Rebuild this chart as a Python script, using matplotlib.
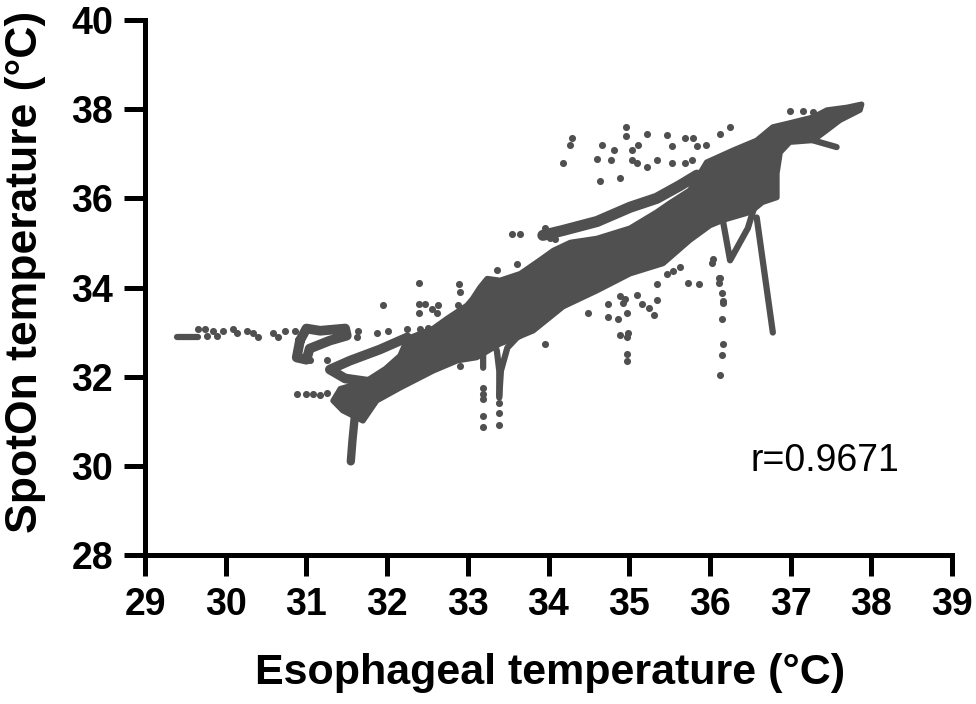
import matplotlib.pyplot as plt

plt.rcParams['font.family'] = ['Liberation Sans', 'DejaVu Sans']

# main dense band outline (esophageal, spoton)
band_x = [31.33, 31.42, 31.73, 31.98, 32.16, 32.25, 32.57, 32.74, 32.99, 33.06, 33.15, 33.24,
          33.40, 33.65, 33.89, 34.06, 34.27, 34.60, 35.01, 35.34, 35.50, 35.75, 35.96, 36.29,
          36.58, 36.78, 36.99, 37.28, 37.45, 37.70, 37.88,
          37.86, 37.61, 37.45, 37.28, 36.99, 36.87, 36.83, 36.83, 36.65, 36.50, 36.16, 36.00,
          35.75, 35.42, 35.01, 34.60, 34.18, 33.81, 33.61, 33.40, 33.11, 32.87, 32.57, 32.16,
          31.87, 31.70, 31.45]
band_y = [31.46, 31.73, 31.89, 32.18, 32.47, 32.85, 33.08, 33.30, 33.60, 33.75, 34.00, 34.20,
          34.16, 34.31, 34.61, 34.83, 35.01, 35.10, 35.33, 35.69, 35.89, 36.18, 36.81, 37.08,
          37.30, 37.60, 37.69, 37.82, 37.98, 38.04, 38.11,
          37.98, 37.75, 37.53, 37.30, 37.26, 37.03, 36.56, 36.02, 35.91, 35.69, 35.51, 35.39,
          35.06, 34.54, 34.31, 33.93, 33.57, 33.03, 32.88, 32.74, 32.43, 32.36, 32.13, 31.75,
          31.46, 31.01, 31.24]

# continuous traces
upper_arm_x = [33.93, 34.18, 34.60, 35.01, 35.34, 35.63, 35.84]
upper_arm_y = [35.17, 35.28, 35.48, 35.80, 36.00, 36.29, 36.52]
left_flat_x = [29.40, 29.66]
left_flat_y = [32.88, 32.88]
left_blob_x = [30.92, 31.00, 31.17, 31.48, 31.50, 31.29, 31.04, 31.00, 30.88, 30.92]
left_blob_y = [32.81, 33.08, 33.03, 33.08, 32.92, 32.81, 32.63, 32.38, 32.43, 32.81]
loop_x = [32.25, 31.91, 31.54, 31.29, 31.48, 31.75, 31.95]
loop_y = [32.88, 32.61, 32.36, 32.16, 31.96, 31.89, 31.82]
spike1_x = [31.60, 31.57, 31.55]
spike1_y = [31.12, 30.56, 30.10]
dip1_x = [33.19, 33.19, 33.25, 33.31, 33.36, 33.39, 33.39]
dip1_y = [32.20, 32.70, 32.88, 32.81, 32.58, 32.13, 31.53]
dip2_x = [33.39, 33.41, 33.49, 33.61, 33.81]
dip2_y = [31.57, 32.13, 32.65, 32.88, 33.10]
dip3_x = [36.16, 36.25, 36.47, 36.55]
dip3_y = [35.51, 34.61, 35.33, 35.80]
spike2_x = [36.58, 36.78]
spike2_y = [35.57, 32.99]
tail_x = [37.28, 37.57]
tail_y = [37.30, 37.15]

# scattered outlier points
dots_x = [29.66, 29.74, 29.77, 29.84, 29.89, 29.97, 30.09, 30.14, 30.26, 30.34, 30.40, 30.59,
          30.65, 30.73, 30.86,
          30.88, 31.00, 31.08, 31.17, 31.26,
          33.55, 33.65, 33.96, 32.40, 32.89, 32.90, 31.95, 32.40, 32.47, 32.63, 32.40, 32.56,
          32.62, 32.88, 33.36, 33.61, 32.90, 33.96, 31.26, 30.90, 31.04, 31.64, 31.63, 31.87,
          32.01, 32.25, 32.41, 32.51,
          33.19, 33.19, 33.19, 33.19, 33.19, 33.39, 33.39, 33.39,
          36.03, 36.11, 36.11, 36.15, 36.16, 36.15, 36.16, 36.15, 36.13, 35.73, 35.86, 34.89,
          34.97, 34.97, 34.97, 35.10, 35.16, 35.25, 35.34, 35.31, 34.74, 34.74, 34.86, 34.97,
          35.34, 35.63, 35.54, 35.47, 34.89, 34.95, 34.92, 34.49, 34.99, 36.04, 36.13, 36.16,
          36.99, 37.15, 37.28, 34.96, 34.96, 35.22, 35.47, 35.69, 35.79, 34.29, 34.27, 34.66,
          34.81, 35.03, 35.11, 34.18, 34.60, 34.77, 35.03, 35.10, 35.22, 35.34, 35.53, 35.69,
          35.78, 34.64, 34.89, 35.53, 35.84, 35.95, 36.13, 36.25, 34.02, 34.08]
dots_y = [33.06, 33.08, 32.92, 33.03, 32.92, 33.03, 33.06, 32.97, 33.03, 32.97, 32.88, 32.97,
          32.88, 33.03, 33.03,
          31.62, 31.62, 31.62, 31.60, 31.64,
          35.21, 35.19, 35.33, 34.11, 34.07, 33.89, 33.60, 33.62, 33.62, 33.60, 33.42, 33.51,
          33.42, 33.60, 34.40, 34.52, 32.25, 32.74, 32.38, 32.63, 32.38, 33.03, 32.88, 32.97,
          33.03, 33.06, 33.08, 33.10,
          31.75, 31.62, 31.51, 31.12, 30.88, 31.42, 31.19, 30.92,
          34.56, 34.22, 34.11, 33.87, 33.69, 33.30, 32.74, 32.49, 32.04, 34.11, 34.09, 32.94,
          32.88, 32.52, 32.36, 33.84, 33.64, 33.53, 33.71, 33.39, 33.62, 33.33, 33.30, 33.42,
          34.09, 34.47, 34.38, 34.31, 33.80, 33.75, 33.66, 33.42, 32.97, 34.63, 34.22, 33.66,
          37.96, 37.96, 37.93, 37.60, 37.39, 37.44, 37.42, 37.35, 37.35, 37.35, 37.19, 37.19,
          37.08, 37.08, 37.19, 36.79, 36.88, 36.85, 36.85, 36.79, 36.70, 36.85, 36.79, 36.79,
          36.85, 36.40, 36.45, 37.17, 37.17, 37.19, 37.44, 37.60, 35.10, 35.08]

x_ticks = [29, 30, 31, 32, 33, 34, 35, 36, 37, 38, 39]
y_ticks = [28, 30, 32, 34, 36, 38, 40]
r_text = "r=0.9671"

col = '#505050'

fig = plt.figure(figsize=(9.76, 7.04), dpi=100)
ax = fig.add_axes([0.1486, 0.2116, 0.8268, 0.7600])

ax.fill(band_x, band_y, color=col, lw=4, ec=col, joinstyle='round', zorder=2)
ax.plot(upper_arm_x, upper_arm_y, color=col, lw=8, solid_capstyle='round',
        solid_joinstyle='round', zorder=2)
ax.plot(loop_x, loop_y, color=col, lw=7, solid_capstyle='round', solid_joinstyle='round', zorder=2)
ax.plot(left_blob_x, left_blob_y, color=col, lw=7, solid_capstyle='round',
        solid_joinstyle='round', zorder=2)
for tx, ty in [(left_flat_x, left_flat_y), (dip1_x, dip1_y), (dip2_x, dip2_y),
               (dip3_x, dip3_y), (spike2_x, spike2_y), (tail_x, tail_y)]:
    ax.plot(tx, ty, color=col, lw=4.5, solid_capstyle='round', solid_joinstyle='round', zorder=2)
ax.plot(spike1_x, spike1_y, color=col, lw=6, solid_capstyle='round', zorder=2)
ax.scatter(dots_x, dots_y, s=26, color=col, linewidths=0, zorder=2)

ax.set_xlim(29, 39)
ax.set_ylim(28, 40)
ax.set_xticks(x_ticks)
ax.set_yticks(y_ticks)
ax.spines['top'].set_visible(False)
ax.spines['right'].set_visible(False)
for s in ['left', 'bottom']:
    ax.spines[s].set_linewidth(3.6)
ax.tick_params(axis='both', length=15, width=3.6, labelsize=27, pad=8)
for lab in ax.get_xticklabels() + ax.get_yticklabels():
    lab.set_fontweight('bold')

ax.set_xlabel("Esophageal temperature (°C)", fontsize=31, fontweight='bold')
ax.set_ylabel("SpotOn temperature (°C)", fontsize=32, fontweight='bold')
ax.xaxis.set_label_coords(0.502, -0.183)
ax.yaxis.set_label_coords(-0.123, 0.529)

ax.text(37.42, 30.1, r_text, fontsize=27, ha='center', va='center')

fig.savefig("out.png", dpi=100)
